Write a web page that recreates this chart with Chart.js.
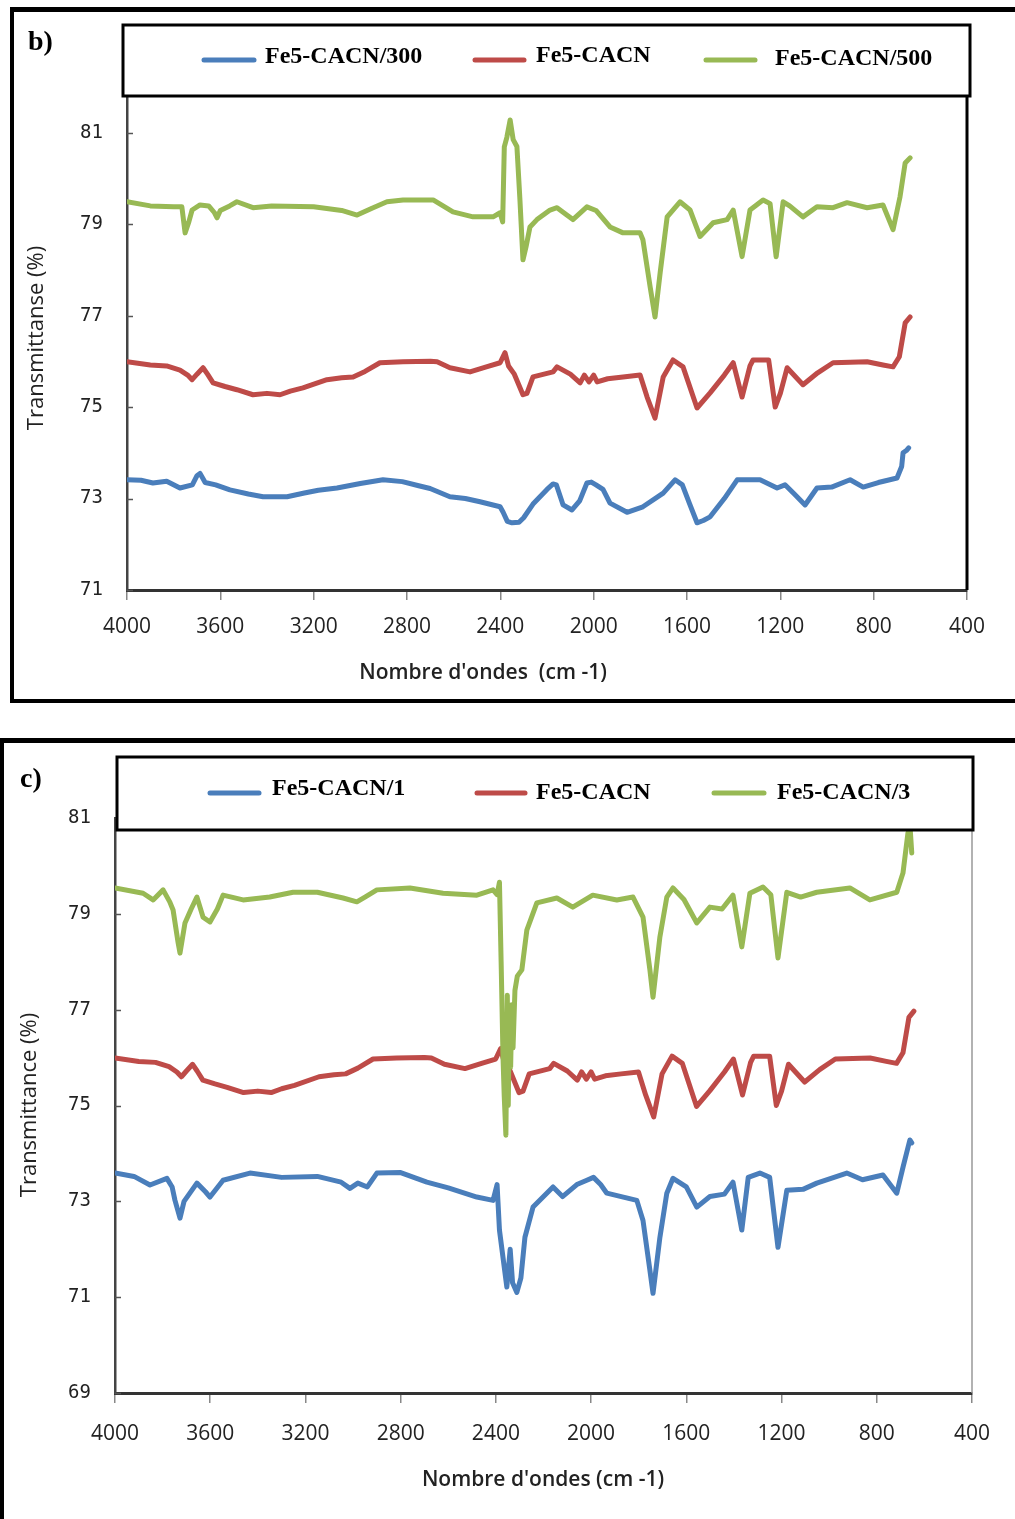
<!DOCTYPE html>
<html>
<head>
<meta charset="utf-8">
<script src="https://cdn.jsdelivr.net/npm/chart.js@4.4.1/dist/chart.umd.min.js"></script>
<style>
  html, body { margin: 0; padding: 0; background: #fff; }
  canvas { position: absolute; left: 0; }
  #chartB { top: 0; }
  #chartC { top: 720px; }
</style>
</head>
<body>
<canvas id="chartB" width="1015" height="720"></canvas>
<canvas id="chartC" width="1015" height="799"></canvas>
<script>
// ---- data (wavenumber in cm-1, transmittance in %) ----

// Fe5-CACN (same spectrum in both panels)
const cacnWn = [4000, 3900, 3830, 3773, 3740, 3721, 3700, 3674, 3655, 3631, 3580, 3529, 3460, 3400, 3344, 3300, 3246, 3143, 3080, 3031, 2980, 2916, 2817, 2700, 2671, 2616, 2530, 2460, 2401, 2380, 2365, 2340, 2303, 2286, 2260, 2174, 2157, 2100, 2058, 2040, 2020, 2000, 1985, 1940, 1874, 1801, 1771, 1737, 1702, 1660, 1617, 1557, 1501, 1440, 1402, 1364, 1330, 1317, 1250, 1222, 1200, 1171, 1103, 1040, 974, 828, 760, 717, 690, 665, 644];
const cacnT  = [75.99, 75.92, 75.90, 75.81, 75.70, 75.60, 75.72, 75.86, 75.72, 75.53, 75.45, 75.38, 75.27, 75.30, 75.27, 75.35, 75.42, 75.60, 75.64, 75.66, 75.78, 75.97, 75.99, 76.00, 75.99, 75.86, 75.77, 75.88, 75.97, 76.19, 75.90, 75.72, 75.27, 75.30, 75.66, 75.77, 75.88, 75.72, 75.53, 75.70, 75.55, 75.70, 75.55, 75.62, 75.66, 75.70, 75.22, 74.76, 75.66, 76.03, 75.88, 74.98, 75.31, 75.70, 75.97, 75.22, 75.90, 76.03, 76.03, 75.00, 75.30, 75.86, 75.49, 75.75, 75.97, 75.99, 75.92, 75.88, 76.10, 76.84, 76.97];

// panel b: Fe5-CACN/300
const c300Wn = [4000, 3940, 3889, 3830, 3773, 3720, 3700, 3687, 3665, 3620, 3559, 3480, 3417, 3314, 3240, 3180, 3100, 3000, 2903, 2820, 2750, 2701, 2616, 2550, 2487, 2401, 2388, 2370, 2350, 2320, 2300, 2260, 2200, 2174, 2160, 2131, 2093, 2060, 2029, 2010, 1990, 1960, 1930, 1857, 1789, 1702, 1651, 1620, 1590, 1557, 1530, 1501, 1440, 1385, 1287, 1214, 1180, 1140, 1094, 1043, 980, 901, 845, 780, 740, 700, 680, 674, 660, 650];
const c300T  = [73.41, 73.40, 73.34, 73.38, 73.23, 73.30, 73.50, 73.55, 73.35, 73.30, 73.19, 73.10, 73.04, 73.04, 73.12, 73.18, 73.23, 73.33, 73.41, 73.37, 73.28, 73.22, 73.04, 73.00, 72.93, 72.82, 72.70, 72.50, 72.47, 72.48, 72.58, 72.88, 73.20, 73.32, 73.30, 72.86, 72.75, 72.95, 73.34, 73.36, 73.30, 73.20, 72.90, 72.70, 72.82, 73.12, 73.41, 73.30, 72.90, 72.47, 72.52, 72.60, 73.00, 73.41, 73.41, 73.23, 73.30, 73.10, 72.86, 73.23, 73.25, 73.41, 73.25, 73.35, 73.40, 73.45, 73.70, 74.00, 74.05, 74.11];

// panel b: Fe5-CACN/500
const c500Wn = [4000, 3900, 3800, 3765, 3751, 3735, 3721, 3687, 3650, 3625, 3614, 3600, 3560, 3529, 3460, 3380, 3200, 3080, 3014, 2950, 2886, 2817, 2688, 2603, 2517, 2431, 2401, 2390, 2383, 2372, 2358, 2345, 2329, 2316, 2303, 2290, 2273, 2243, 2187, 2157, 2089, 2029, 1990, 1930, 1874, 1801, 1789, 1758, 1737, 1715, 1685, 1630, 1587, 1544, 1488, 1428, 1402, 1364, 1330, 1274, 1244, 1218, 1188, 1160, 1103, 1043, 974, 914, 828, 760, 717, 687, 665, 644];
const c500T  = [79.49, 79.40, 79.38, 79.38, 78.81, 79.05, 79.31, 79.42, 79.40, 79.25, 79.14, 79.30, 79.40, 79.49, 79.36, 79.40, 79.38, 79.30, 79.20, 79.35, 79.49, 79.53, 79.53, 79.27, 79.16, 79.16, 79.25, 79.05, 80.69, 80.90, 81.28, 80.85, 80.70, 79.53, 78.22, 78.50, 78.94, 79.10, 79.31, 79.36, 79.10, 79.38, 79.30, 78.94, 78.81, 78.81, 78.66, 77.63, 76.97, 77.94, 79.16, 79.49, 79.31, 78.73, 79.03, 79.10, 79.31, 78.29, 79.31, 79.53, 79.45, 78.29, 79.49, 79.40, 79.16, 79.38, 79.36, 79.47, 79.36, 79.42, 78.88, 79.60, 80.34, 80.45];

// panel c: Fe5-CACN/1
const c1Wn = [4000, 3920, 3853, 3782, 3760, 3748, 3727, 3710, 3656, 3620, 3601, 3546, 3433, 3300, 3150, 3050, 3013, 2980, 2940, 2900, 2800, 2690, 2600, 2480, 2412, 2395, 2385, 2354, 2340, 2330, 2312, 2295, 2278, 2244, 2160, 2120, 2060, 2018, 1990, 1960, 1934, 1808, 1782, 1753, 1740, 1711, 1682, 1656, 1600, 1556, 1501, 1440, 1404, 1367, 1340, 1291, 1250, 1215, 1178, 1110, 1052, 926, 860, 774, 716, 690, 661, 653];
const c1T  = [73.59, 73.52, 73.34, 73.48, 73.30, 73.02, 72.65, 73.00, 73.38, 73.20, 73.09, 73.44, 73.59, 73.50, 73.52, 73.40, 73.27, 73.38, 73.30, 73.59, 73.60, 73.40, 73.28, 73.09, 73.02, 73.35, 72.40, 71.21, 72.00, 71.30, 71.10, 71.40, 72.25, 72.88, 73.30, 73.10, 73.35, 73.44, 73.50, 73.35, 73.17, 73.02, 72.60, 71.56, 71.08, 72.25, 73.17, 73.48, 73.30, 72.88, 73.10, 73.15, 73.40, 72.40, 73.50, 73.59, 73.50, 72.04, 73.23, 73.25, 73.38, 73.59, 73.45, 73.55, 73.17, 73.71, 74.28, 74.22];

// panel c: Fe5-CACN/3
const c3Wn = [4000, 3882, 3840, 3798, 3770, 3756, 3735, 3727, 3706, 3680, 3656, 3630, 3601, 3570, 3546, 3462, 3350, 3252, 3150, 3042, 2984, 2950, 2900, 2761, 2622, 2480, 2412, 2395, 2385, 2378, 2370, 2365, 2358, 2352, 2348, 2343, 2338, 2333, 2328, 2320, 2310, 2291, 2270, 2228, 2144, 2077, 1993, 1892, 1824, 1782, 1753, 1740, 1711, 1682, 1656, 1610, 1556, 1501, 1450, 1404, 1367, 1333, 1278, 1245, 1215, 1178, 1120, 1052, 913, 829, 716, 690, 669, 660, 653];
const c3T  = [79.54, 79.43, 79.29, 79.50, 79.25, 79.08, 78.40, 78.18, 78.81, 79.10, 79.35, 78.93, 78.83, 79.10, 79.39, 79.29, 79.35, 79.45, 79.45, 79.33, 79.25, 79.35, 79.50, 79.54, 79.43, 79.39, 79.50, 79.40, 79.66, 78.00, 76.00, 75.20, 74.38, 77.30, 75.00, 77.00, 75.80, 77.10, 76.20, 77.40, 77.70, 77.83, 78.66, 79.23, 79.33, 79.14, 79.39, 79.29, 79.35, 78.93, 77.83, 77.26, 78.52, 79.35, 79.54, 79.30, 78.81, 79.14, 79.10, 79.39, 78.31, 79.43, 79.56, 79.40, 78.08, 79.45, 79.35, 79.45, 79.54, 79.29, 79.45, 79.85, 80.69, 80.80, 80.27];

const bTicksY = [71, 73, 75, 77, 79, 81];
const cTicksY = [69, 71, 73, 75, 77, 79, 81];

const blue = "#4a7ebb";
const red = "#be4b48";
const green = "#98b954";

function toPoints(wn, t) {
  return wn.map((w, i) => ({ x: w, y: t[i] }));
}

function line(label, wn, t, color, order) {
  return {
    label: label,
    data: toPoints(wn, t),
    borderColor: color,
    backgroundColor: color,
    borderWidth: 5,
    borderJoinStyle: "round",
    borderCapStyle: "round",
    pointRadius: 0,
    tension: 0,
    order: order,
  };
}

// draws frames, legend box, panel letter and axis titles
const decor = {
  id: "decor",
  afterDraw(chart, args, o) {
    const ctx = chart.ctx;
    const area = chart.chartArea;
    const ys = chart.scales.y;
    ctx.save();

    ctx.strokeStyle = "#555";
    ctx.lineWidth = 1.5;
    ys.ticks.forEach((t) => {
      const py = Math.round(ys.getPixelForValue(t.value)) + 0.5;
      ctx.beginPath();
      ctx.moveTo(area.left, py);
      ctx.lineTo(area.left + 6, py);
      ctx.stroke();
    });

    ctx.strokeStyle = o.rightColor;
    ctx.lineWidth = o.rightWidth;
    ctx.beginPath();
    ctx.moveTo(area.right, area.top);
    ctx.lineTo(area.right, area.bottom);
    ctx.stroke();

    const lb = o.legendBox;
    ctx.fillStyle = "#fff";
    ctx.fillRect(lb.x, lb.y, lb.w, lb.h);
    ctx.strokeStyle = "#000";
    ctx.lineWidth = 3;
    ctx.strokeRect(lb.x, lb.y, lb.w, lb.h);

    ctx.font = "bold 24px 'Liberation Serif'";
    ctx.textBaseline = "middle";
    ctx.textAlign = "left";
    chart.data.datasets.forEach((ds, i) => {
      const it = o.legendItems[i];
      ctx.strokeStyle = ds.borderColor;
      ctx.lineWidth = 5;
      ctx.lineCap = "round";
      ctx.beginPath();
      ctx.moveTo(it.x1, it.y);
      ctx.lineTo(it.x2, it.y);
      ctx.stroke();
      ctx.fillStyle = "#000";
      ctx.fillText(ds.label, it.tx, it.ty);
    });

    ctx.strokeStyle = "#000";
    ctx.lineCap = "butt";
    o.frame.forEach((f) => {
      ctx.lineWidth = f.w;
      ctx.beginPath();
      ctx.moveTo(f.x1, f.y1);
      ctx.lineTo(f.x2, f.y2);
      ctx.stroke();
    });

    ctx.fillStyle = "#000";
    ctx.font = "bold 28px 'Liberation Serif'";
    ctx.fillText(o.panel.text, o.panel.x, o.panel.y);

    ctx.fillStyle = "#222";
    ctx.textAlign = "center";
    ctx.font = "600 21px 'Open Sans'";
    ctx.fillText(o.xTitle.text, o.xTitle.x, o.xTitle.y);
    ctx.font = "22px 'Open Sans'";
    ctx.translate(o.yTitle.x, o.yTitle.y);
    ctx.rotate(-Math.PI / 2);
    ctx.fillText(o.yTitle.text, 0, 0);
    ctx.restore();
  },
};

function makeOptions(cfg) {
  return {
    responsive: false,
    animation: false,
    layout: { padding: { left: 0, right: cfg.padRight, top: cfg.padTop, bottom: 0 } },
    plugins: {
      legend: { display: false },
      tooltip: { enabled: false },
      decor: cfg.decor,
    },
    scales: {
      x: {
        type: "linear",
        reverse: true,
        min: 400,
        max: 4000,
        ticks: {
          stepSize: 400,
          padding: cfg.xTickPad,
          color: "#222",
          font: { family: "'Open Sans'", size: 21 },
          maxRotation: 0,
          callback: (v) => String(v),
        },
        grid: { display: true, drawOnChartArea: false, drawTicks: true, tickLength: 10, color: "#888", lineWidth: 1.5 },
        border: { display: true, color: "#333", width: 3 },
        afterFit(scale) { scale.height = cfg.xHeight; },
      },
      y: {
        min: cfg.yMin,
        max: cfg.yMax,
        afterBuildTicks(scale) { scale.ticks = cfg.yTicks.map((v) => ({ value: v })); },
        ticks: {
          padding: 24,
          color: "#222",
          font: { family: "'DejaVu Sans Mono'", size: 19 },
          callback: (v) => String(v),
        },
        grid: { display: false, drawTicks: false },
        border: { display: true, color: "#444", width: 2.5 },
        afterFit(scale) { scale.width = cfg.yWidth; },
      },
    },
  };
}

new Chart(document.querySelector("#chartB"), {
  type: "line",
  data: {
    datasets: [
      line("Fe5-CACN/300", c300Wn, c300T, blue, 3),
      line("Fe5-CACN", cacnWn, cacnT, red, 2),
      line("Fe5-CACN/500", c500Wn, c500T, green, 1),
    ],
  },
  plugins: [decor],
  options: makeOptions({
    padRight: 48,
    padTop: 87,
    xHeight: 130,
    yWidth: 127,
    xTickPad: 14,
    yMin: 71,
    yMax: 82,
    yTicks: bTicksY,
    decor: {
      rightColor: "#000",
      rightWidth: 3,
      legendBox: { x: 123, y: 25, w: 847, h: 71 },
      legendItems: [
        { x1: 204, x2: 254, y: 60, tx: 265, ty: 57 },
        { x1: 475, x2: 524, y: 60, tx: 536, ty: 56 },
        { x1: 706, x2: 755, y: 60, tx: 775, ty: 59 },
      ],
      frame: [
        { x1: 10, y1: 9.5, x2: 1015, y2: 9.5, w: 5 },
        { x1: 12, y1: 7, x2: 12, y2: 703, w: 4 },
        { x1: 10, y1: 701, x2: 1015, y2: 701, w: 4 },
      ],
      panel: { text: "b)", x: 28, y: 43 },
      xTitle: { text: "Nombre d'ondes  (cm -1)", x: 483, y: 673 },
      yTitle: { text: "Transmittanse (%)", x: 37, y: 338 },
    },
  }),
});

new Chart(document.querySelector("#chartC"), {
  type: "line",
  data: {
    datasets: [
      line("Fe5-CACN/1", c1Wn, c1T, blue, 3),
      line("Fe5-CACN", cacnWn, cacnT, red, 2),
      line("Fe5-CACN/3", c3Wn, c3T, green, 1),
    ],
  },
  plugins: [decor],
  options: makeOptions({
    padRight: 43,
    padTop: 98,
    xHeight: 126,
    yWidth: 115,
    xTickPad: 18,
    yMin: 69,
    yMax: 81,
    yTicks: cTicksY,
    decor: {
      rightColor: "#999",
      rightWidth: 1.5,
      legendBox: { x: 117, y: 37, w: 856, h: 73 },
      legendItems: [
        { x1: 210, x2: 259, y: 73, tx: 272, ty: 69 },
        { x1: 477, x2: 525, y: 73, tx: 536, ty: 73 },
        { x1: 714, x2: 764, y: 73, tx: 777, ty: 73 },
      ],
      frame: [
        { x1: 0, y1: 20.5, x2: 1015, y2: 20.5, w: 5 },
        { x1: 2, y1: 18, x2: 2, y2: 799, w: 4 },
      ],
      panel: { text: "c)", x: 20, y: 60 },
      xTitle: { text: "Nombre d'ondes (cm -1)", x: 543, y: 760 },
      yTitle: { text: "Transmittance (%)", x: 30, y: 385 },
    },
  }),
});
</script>
</body>
</html>
